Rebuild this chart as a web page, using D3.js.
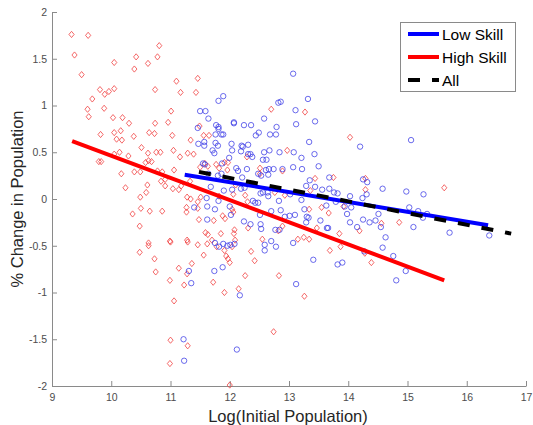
<!DOCTYPE html>
<html>
<head>
<meta charset="utf-8">
<script src="https://cdn.jsdelivr.net/npm/d3@7"></script>
<style>
  html, body { margin: 0; padding: 0; background: #fff; }
  svg { display: block; font-family: "Liberation Sans", Arial, Helvetica, sans-serif; }
</style>
</head>
<body>
<svg id="chart" width="533" height="425"></svg>
<script>
// High-skill cities: [log initial population, % change]
const highSkill = [
  [9.33,1.76],[9.61,1.75],[9.38,1.54],[9.50,1.33],[10.05,1.46],[10.42,1.52],[10.39,1.39],[10.62,1.45],[10.78,1.52],[10.81,1.64],
  [9.81,1.17],[9.68,1.07],[9.89,1.12],[9.96,1.15],[10.05,1.18],[10.74,1.17],
  [9.60,0.96],[9.62,0.88],[9.88,0.97],[10.03,0.87],[10.19,0.87],[10.30,0.81],
  [9.82,0.69],[10.05,0.71],[10.16,0.73],[10.09,0.64],[10.18,0.63],[10.38,0.67],[10.64,0.71],[10.74,0.81],[10.73,0.70],[10.96,0.82],[11.01,0.94],[11.03,0.68],
  [10.51,0.55],[9.79,0.40],[9.83,0.40],[10.05,0.48],[10.14,0.50],[10.29,0.46],[10.62,0.49],[10.76,0.50],[10.83,0.50],[11.05,0.52],
  [10.17,0.27],[10.39,0.29],[10.49,0.29],[10.58,0.39],[10.63,0.41],[10.68,0.40],[10.78,0.30],[10.86,0.29],[11.06,0.31],
  [10.84,0.19],[10.91,0.21],[10.91,0.14],[11.04,0.11],[10.24,0.12],[10.61,0.15],[10.59,0.07],[10.49,0.02],
  [10.36,-0.16],[10.50,-0.10],[10.65,-0.13],[10.86,-0.13],[10.48,-0.29],[10.63,-0.47],[10.63,-0.50],[10.99,-0.45],[11.00,-0.46],
  [10.48,-0.57],[10.73,-0.64],[10.75,-0.78],[10.99,-0.87],[11.06,-1.09],[11.00,-1.51],[10.99,-1.76],
  [11.10,1.26],[11.46,1.29],[11.17,1.14],[11.43,1.14],[11.49,0.78],[11.56,0.68],[11.65,0.68],[11.34,0.63],[11.16,0.45],[11.29,0.49],[11.39,0.48],
  [11.33,0.19],[11.58,0.38],[11.63,0.35],[11.77,0.37],[11.82,0.33],[11.91,0.39],[11.97,0.39],[11.96,0.31],[11.50,0.34],
  [11.14,0.10],[11.18,0.14],[11.28,0.02],[11.34,0.00],[11.27,-0.09],[11.51,0.02],[11.46,-0.03],[11.82,0.03],
  [12.10,0.15],[12.06,0.05],[12.26,0.04],[12.30,-0.03],[12.29,0.45],[12.51,0.33],[12.51,0.27],[12.70,0.96],[12.97,0.52],[12.89,0.30],[12.76,0.07],[12.93,0.04],
  [13.27,0.93],[14.03,0.66],[13.44,0.22],[13.75,0.23],[13.36,0.09],[14.29,0.22],[14.29,0.10],[13.55,-0.09],[13.92,-0.08],[15.62,0.12],
  [13.34,-0.11],[13.67,-0.15],[13.47,-0.31],[13.25,-0.41],[13.34,-0.43],[13.85,-0.37],[14.19,-0.34],[13.69,-0.55],[13.87,-0.51],
  [14.28,-0.58],[14.39,-0.68],[14.56,-0.26],[14.86,-0.25],[13.26,-1.04],
  [11.27,-0.14],[11.46,-0.10],[11.48,-0.22],[11.73,-0.23],[11.88,-0.18],[11.92,-0.21],[12.04,-0.11],[12.06,-0.14],
  [11.59,-0.36],[11.63,-0.38],[11.85,-0.37],[12.08,-0.33],[12.07,-0.37],[12.09,-0.44],[11.28,-0.44],[11.29,-0.46],
  [11.46,-0.49],[11.62,-0.48],[11.70,-0.44],[11.78,-0.51],[11.91,-0.55],[11.94,-0.61],[11.97,-0.64],[12.00,-0.68],[12.04,-0.51],
  [11.56,-0.60],[11.14,-0.74],[11.36,-0.69],[11.28,-0.80],[11.23,-0.92],[11.72,-0.89],[11.91,-1.00],[12.15,-0.96],[12.26,-0.82],
  [12.36,-0.56],[12.42,-0.66],[12.31,-0.31],[12.55,-0.43],[12.83,-0.82],[12.74,-1.42],[11.29,-1.57],[12.00,-1.99],
  [12.82,-0.34],[12.89,-0.29],[13.15,-0.43]
];

// Low-skill cities: [log initial population, % change]
const lowSkill = [
  [13.07,1.34],[11.89,1.10],[11.81,1.05],[11.59,0.94],[11.50,0.94],[11.64,0.86],[12.82,1.03],[12.86,1.04],[13.11,0.95],[12.58,0.86],
  [12.07,0.82],[12.07,0.81],[12.24,0.79],[12.36,0.79],[12.79,0.77],[13.12,0.80],[11.77,0.79],[11.81,0.77],[11.81,0.75],[11.46,0.76],
  [11.76,0.69],[11.86,0.69],[11.89,0.69],[12.49,0.71],[12.44,0.68],[12.68,0.69],[12.78,0.69],
  [11.47,0.59],[11.57,0.61],[11.57,0.57],[11.76,0.60],[11.80,0.57],[12.03,0.59],[12.20,0.57],[12.22,0.56],[12.31,0.58],
  [12.04,0.52],[11.71,0.52],[11.74,0.49],[12.19,0.51],[12.31,0.48],[12.35,0.48],[12.38,0.45],[12.58,0.50],[12.67,0.52],
  [12.56,0.42],[12.62,0.42],[12.84,0.50],[13.08,0.50],[11.99,0.44],[11.55,0.38],[11.58,0.37],[11.87,0.38],
  [12.11,0.33],[12.29,0.32],[12.14,0.30],[12.61,0.31],[12.66,0.32],[12.74,0.32],[12.89,0.32],[13.07,0.34],
  [11.86,0.27],[11.80,0.25],[11.64,0.27],[12.21,0.23],[12.48,0.27],[12.53,0.25],[12.65,0.26],
  [12.25,0.12],[12.04,0.10],[12.19,0.11],[11.90,0.09],[11.68,0.13],[11.61,0.01],[12.52,0.06],[12.56,0.07],[12.64,0.07],[12.65,0.03],
  [12.83,-0.02],[13.02,0.05],[11.81,-0.02],[12.39,-0.02],[12.43,-0.04],[12.48,-0.04],[11.40,-0.09],[11.62,-0.08],[12.00,-0.08],
  [13.32,1.07],[13.44,0.83],[13.34,0.61],[13.43,0.48],[13.50,0.35],[13.21,0.44],[13.68,0.23],[13.76,0.07],[13.82,0.06],[14.03,0.03],[14.20,0.56],
  [13.22,0.32],[13.35,0.20],[13.29,0.14],[13.44,0.13],[13.56,0.10],[13.68,0.11],[14.25,0.21],[14.32,0.18],[14.31,0.05],[14.24,0.01],
  [14.58,0.11],[14.98,0.08],[15.27,0.05],[15.06,0.63],[13.21,-0.01],[13.63,-0.07],[13.79,-0.03],[13.94,-0.08],
  [15.03,-0.09],[15.18,-0.13],[15.33,-0.16],[15.26,-0.20],[15.10,-0.30],[15.71,-0.36],[16.38,-0.39],
  [14.51,-0.16],[14.36,-0.25],[14.46,-0.23],[14.25,-0.22],[14.15,-0.30],[14.55,-0.30],[14.63,-0.41],[14.58,-0.52],
  [14.76,-0.61],[14.97,-0.77],[14.81,-0.87],[14.05,-0.09],
  [13.26,-0.11],[13.30,-0.19],[13.33,-0.20],[13.29,-0.25],[13.53,-0.23],[13.64,-0.31],[13.66,-0.31],[13.98,-0.16],[14.03,-0.25],
  [14.27,-0.56],[13.41,-0.65],[13.82,-0.70],[13.90,-0.68],
  [11.75,-0.11],[12.02,-0.17],[11.62,-0.22],[12.24,-0.24],[12.35,-0.27],[12.52,-0.27],[12.53,-0.32],[12.51,-0.17],
  [12.70,-0.13],[12.86,-0.12],[12.93,-0.19],[13.01,-0.18],[13.10,-0.17],
  [11.75,-0.47],[11.82,-0.51],[11.89,-0.48],[11.96,-0.50],[12.01,-0.49],[12.08,-0.48],[12.59,-0.49],[12.59,-0.55],[12.70,-0.45],
  [12.78,-0.51],[12.77,-0.33],[12.84,-0.33],[11.88,-0.73],[11.74,-0.77],[11.31,-0.77],[11.35,-0.90],[12.17,-1.03],
  [13.12,-0.91],[13.07,-0.47],[11.22,-1.50],[11.23,-1.73],[12.12,-1.61]
];

// Fitted regression lines: endpoints [x, y]
const lowFit  = [[11.24, 0.26], [16.36, -0.28]];
const highFit = [[9.34, 0.62], [15.62, -0.87]];
const allFit  = [[11.48, 0.29], [16.75, -0.37]];

const xTicks = [9, 10, 11, 12, 13, 14, 15, 16, 17];
const yTicks = [-2, -1.5, -1, -0.5, 0, 0.5, 1, 1.5, 2];

const legendLabels = ["Low Skill", "High Skill", "All"];
const legendColors = ["#0000ff", "#ff0000", "#000000"];
const legendDashes = [null, null, "12,12"];

const svg = d3.select("#chart");
const x = d3.scaleLinear().domain([9, 17]).range([52, 526]);
const y = d3.scaleLinear().domain([-2, 2]).range([386, 12]);

const axisColor = "#8a8a8a";
const textColor = "#4d4d4d";

// Axes (inward ticks, no box)
const gx = svg.append("g").attr("transform", `translate(0,${y(-2)})`)
  .call(d3.axisBottom(x).tickValues(xTicks).tickFormat(d3.format("d"))
    .tickSizeInner(-5).tickSizeOuter(0).tickPadding(8));
const gy = svg.append("g").attr("transform", `translate(${x(9)},0)`)
  .call(d3.axisLeft(y).tickValues(yTicks).tickFormat(d => String(d))
    .tickSizeInner(-5).tickSizeOuter(0).tickPadding(5));

[gx, gy].forEach(g => {
  g.select(".domain").attr("stroke", axisColor).attr("stroke-width", 1);
  g.selectAll(".tick line").attr("stroke", axisColor);
  g.selectAll(".tick text").attr("fill", textColor)
    .style("font-size", "10.5px").style("font-family", '"Liberation Sans", Arial, sans-serif');
});

// Scatter: high-skill diamonds
const dia = "M0,-3.1L2.6,0L0,3.1L-2.6,0Z";
svg.append("g").selectAll("path").data(highSkill).join("path")
  .attr("d", dia)
  .attr("transform", d => `translate(${x(d[0])},${y(d[1])})`)
  .attr("fill", "none").attr("stroke", "#f03a3a").attr("stroke-width", 0.9).attr("stroke-opacity", 0.85);

// Scatter: low-skill circles
svg.append("g").selectAll("circle").data(lowSkill).join("circle")
  .attr("cx", d => x(d[0])).attr("cy", d => y(d[1])).attr("r", 2.7)
  .attr("fill", "none").attr("stroke", "#3c3ce6").attr("stroke-width", 0.9).attr("stroke-opacity", 0.85);

// Fit lines
const line = d3.line().x(d => x(d[0])).y(d => y(d[1]));
svg.append("path").datum(lowFit).attr("d", line)
  .attr("stroke", "#0000ff").attr("stroke-width", 4).attr("fill", "none");
svg.append("path").datum(highFit).attr("d", line)
  .attr("stroke", "#ff0000").attr("stroke-width", 4).attr("fill", "none");
svg.append("path").datum(allFit).attr("d", line)
  .attr("stroke", "#000000").attr("stroke-width", 4).attr("stroke-dasharray", "12,12").attr("fill", "none");

// Axis titles
svg.append("text").attr("x", 288).attr("y", 422).attr("text-anchor", "middle")
  .attr("fill", "#262626").style("font-size", "16.5px").text("Log(Initial Population)");
svg.append("text").attr("transform", `translate(22.5,${y(0)}) rotate(-90)`).attr("text-anchor", "middle")
  .attr("fill", "#262626").style("font-size", "16.5px").text("% Change in Population");

// Legend
const lg = svg.append("g");
lg.append("rect").attr("x", 400.5).attr("y", 22.5).attr("width", 115).attr("height", 69)
  .attr("fill", "#fff").attr("stroke", axisColor).attr("stroke-width", 1);
legendLabels.forEach((label, i) => {
  const cy = 34 + i * 23;
  lg.append("line").attr("x1", 408).attr("x2", 439).attr("y1", cy).attr("y2", cy)
    .attr("stroke", legendColors[i]).attr("stroke-width", 4)
    .attr("stroke-dasharray", legendDashes[i]);
  lg.append("text").attr("x", 442).attr("y", cy).attr("dy", "0.36em")
    .attr("fill", "#000").style("font-size", "15.5px").text(label);
});
</script>
</body>
</html>
